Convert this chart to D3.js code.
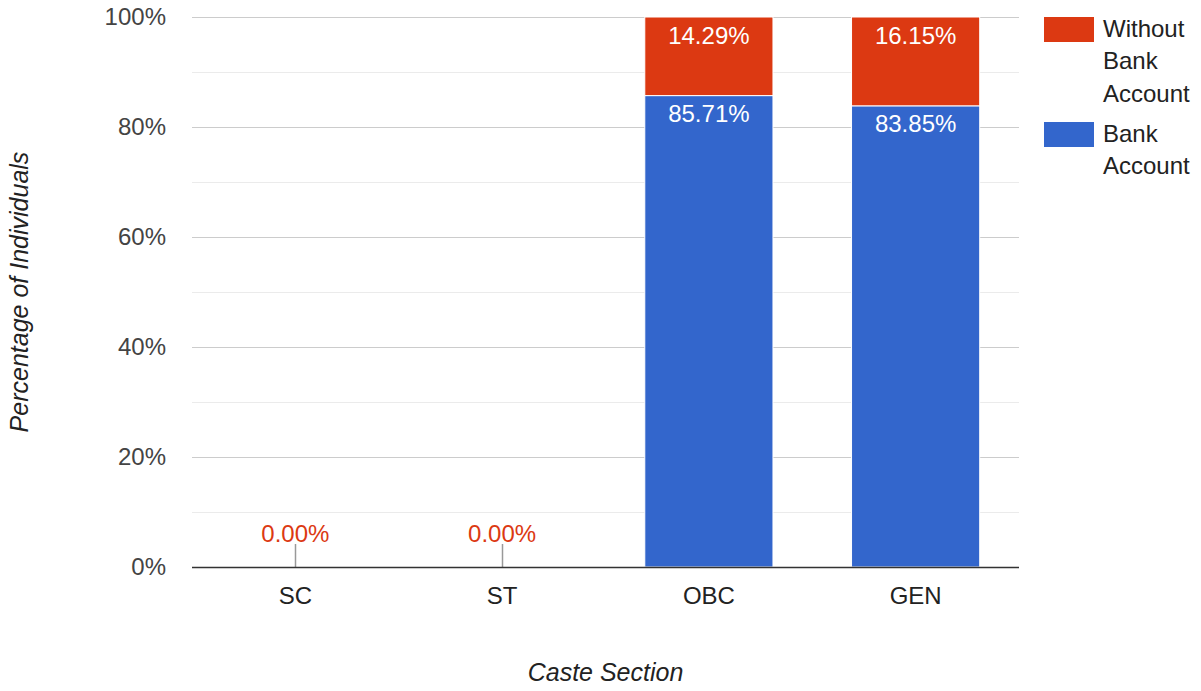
<!DOCTYPE html>
<html>
<head>
<meta charset="utf-8">
<script src="https://cdn.jsdelivr.net/npm/d3@7"></script>
<style>
  body { margin: 0; background: #fff; }
  svg { font-family: "Liberation Sans", Arial, sans-serif; }
</style>
</head>
<body>
<svg width="1201" height="691"></svg>
<script>
var categories = ["SC", "ST", "OBC", "GEN"];
var bankAccount = [0, 0, 85.71, 83.85];
var withoutBank = [0, 0, 14.29, 16.15];
var yTicks = [0, 20, 40, 60, 80, 100];
var minorTicks = [10, 30, 50, 70, 90];

var svg = d3.select("svg"),
    margin = {left: 192, right: 182, top: 17, bottom: 124},
    width = +svg.attr("width") - margin.left - margin.right,
    height = +svg.attr("height") - margin.top - margin.bottom;

var blue = "#3366cc", red = "#dc3912";
var fs = 24;

var x = d3.scaleBand().domain(categories).range([0, width]).paddingInner(0.38).paddingOuter(0.19);
var y = d3.scaleLinear().domain([0, 100]).range([height, 0]);

var g = svg.append("g").attr("transform", "translate(" + margin.left + "," + margin.top + ")");

// grid
g.selectAll(".minor").data(minorTicks).enter().append("line")
    .attr("x1", 0).attr("x2", width)
    .attr("y1", function(d) { return Math.round(y(d)) + 0.5; })
    .attr("y2", function(d) { return Math.round(y(d)) + 0.5; })
    .attr("stroke", "#ebebeb");
g.selectAll(".major").data(yTicks.filter(function(d) { return d > 0; })).enter().append("line")
    .attr("x1", 0).attr("x2", width)
    .attr("y1", function(d) { return Math.round(y(d)) + 0.5; })
    .attr("y2", function(d) { return Math.round(y(d)) + 0.5; })
    .attr("stroke", "#cccccc");

// y labels
var yAxis = d3.axisLeft(y).tickValues(yTicks).tickSize(0).tickPadding(26)
    .tickFormat(function(d) { return d + "%"; });
var ya = g.append("g").call(yAxis);
ya.select(".domain").remove();
ya.selectAll("text").attr("font-size", fs).attr("fill", "#444").attr("font-family", "Liberation Sans, Arial, sans-serif");

// stacked data
var rows = categories.map(function(c, i) { return {cat: c, bank: bankAccount[i], without: withoutBank[i]}; });
var series = d3.stack().keys(["bank", "without"])(rows);
var colors = {bank: blue, without: red};

series.forEach(function(s) {
    var segs = s.filter(function(d) { return d[1] - d[0] > 0; });
    g.selectAll(".bar-" + s.key).data(segs).enter().append("rect")
        .attr("x", function(d) { return x(d.data.cat); })
        .attr("width", x.bandwidth())
        .attr("y", function(d) { return y(d[1]); })
        .attr("height", function(d) { return y(d[0]) - y(d[1]); })
        .attr("fill", colors[s.key])
        .attr("stroke", "#fff").attr("stroke-width", 1);

    g.selectAll(".lab-" + s.key).data(segs).enter().append("text")
        .attr("x", function(d) { return x(d.data.cat) + x.bandwidth() / 2; })
        .attr("y", function(d) { return y(d[1]) + 26.5; })
        .attr("text-anchor", "middle")
        .attr("font-size", fs).attr("fill", "#fff")
        .text(function(d) { return (d[1] - d[0]).toFixed(2) + "%"; });
});

// zero-value annotations with stems
var zeros = rows.filter(function(d) { return d.bank + d.without === 0; });
g.selectAll(".stem").data(zeros).enter().append("line")
    .attr("x1", function(d) { return Math.round(x(d.cat) + x.bandwidth() / 2) + 0.5; })
    .attr("x2", function(d) { return Math.round(x(d.cat) + x.bandwidth() / 2) + 0.5; })
    .attr("y1", height - 23).attr("y2", height)
    .attr("stroke", "#999").attr("stroke-width", 1.5);
g.selectAll(".zlab").data(zeros).enter().append("text")
    .attr("x", function(d) { return x(d.cat) + x.bandwidth() / 2; })
    .attr("y", height - 25)
    .attr("text-anchor", "middle")
    .attr("font-size", fs).attr("fill", red)
    .text(function(d) { return d.without.toFixed(2) + "%"; });

// baseline
g.append("line").attr("x1", 0).attr("x2", width)
    .attr("y1", height + 0.5).attr("y2", height + 0.5)
    .attr("stroke", "#333").attr("stroke-width", 1.5);

// x labels
var xa = g.append("g").attr("transform", "translate(0," + height + ")")
    .call(d3.axisBottom(x).tickSize(0).tickPadding(20));
xa.select(".domain").remove();
xa.selectAll("text").attr("font-size", fs).attr("fill", "#222").attr("font-family", "Liberation Sans, Arial, sans-serif");

// axis titles
svg.append("text")
    .attr("x", margin.left + width / 2).attr("y", 681)
    .attr("text-anchor", "middle").attr("font-size", 25).attr("font-style", "italic").attr("fill", "#222")
    .text("Caste Section");
svg.append("text")
    .attr("transform", "translate(28," + (margin.top + height / 2) + ") rotate(-90)")
    .attr("text-anchor", "middle").attr("font-size", 25).attr("font-style", "italic").attr("fill", "#222")
    .text("Percentage of Individuals");

// legend
var legend = [
    {color: red, lines: ["Without", "Bank", "Account"], top: 17},
    {color: blue, lines: ["Bank", "Account"], top: 122}
];
legend.forEach(function(l) {
    svg.append("rect").attr("x", 1044).attr("y", l.top).attr("width", 50).attr("height", 25).attr("fill", l.color);
    l.lines.forEach(function(t, i) {
        svg.append("text").attr("x", 1103).attr("y", l.top + 20 + i * 32.3)
            .attr("font-size", fs).attr("fill", "#222").text(t);
    });
});
</script>
</body>
</html>
